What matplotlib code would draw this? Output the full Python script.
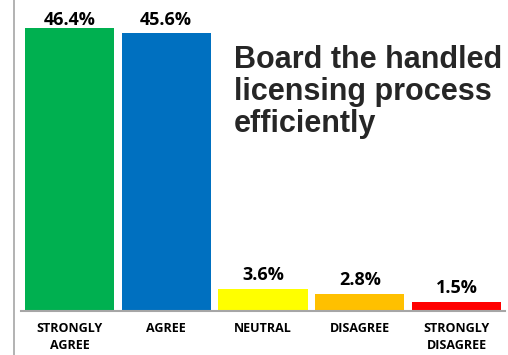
import matplotlib.pyplot as plt
from matplotlib.lines import Line2D

# survey results
categories = ["STRONGLY\nAGREE", "AGREE", "NEUTRAL", "DISAGREE", "STRONGLY\nDISAGREE"]
values = [46.4, 45.6, 3.6, 2.8, 1.5]
colors = ["#00B050", "#0070C0", "#FFFF00", "#FFC000", "#FF0000"]
title_lines = ["Board the handled", "licensing process", "efficiently"]

W, H = 508, 355
fig = plt.figure(figsize=(W / 100, H / 100), dpi=100)
ax = fig.add_axes([21 / W, 44 / H, 484 / W, 311 / H])

x = range(len(values))
ax.bar(x, values, width=0.92, color=colors, zorder=2)
ax.set_xlim(-0.5, len(values) - 0.5)
ax.set_ylim(0, 51)

# value labels above bars (kept inside the axes at the top)
for i, v in enumerate(values):
    ax.text(i, min(v + 1.5, 46.9), f"{v}%", ha="center", va="baseline",
            fontsize=13, fontweight="bold", family="Open Sans", color="#000000")

ax.set_xticks(list(x))
ax.set_xticklabels(categories, fontsize=9, fontweight="bold", family="Open Sans",
                   linespacing=1.35)
ax.tick_params(axis="x", length=0, pad=8)
ax.set_yticks([])
for side in ["top", "right", "left"]:
    ax.spines[side].set_visible(False)
ax.spines["bottom"].set_color("#A6A6A6")
ax.spines["bottom"].set_linewidth(1.5)

# thin vertical rule at the left edge
fig.add_artist(Line2D([13.5 / W, 13.5 / W], [0, 1], color="#A6A6A6", lw=1.2))

# heading text, one line per baseline
for k, line in enumerate(title_lines):
    fig.text(234 / W, 1 - (68 + 32 * k) / H, line, ha="left", va="baseline",
             fontsize=22, fontweight="bold", family="Liberation Sans",
             color="#262626")

fig.savefig("out.png", dpi=100)
